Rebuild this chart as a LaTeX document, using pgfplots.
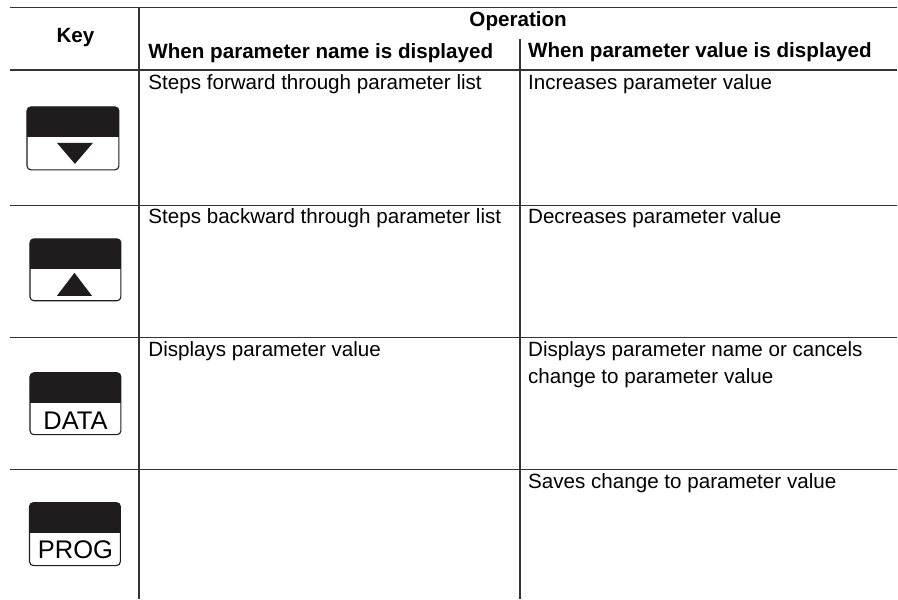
\documentclass[border=0pt]{standalone}
\usepackage{fontspec}
\setmainfont{Liberation Sans}
\usepackage{pgfplots}
\pgfplotsset{compat=1.18}
\definecolor{ln}{HTML}{333333}
\definecolor{tx}{HTML}{222222}
\definecolor{kb}{HTML}{1E1C1D}
\newcommand{\body}{\fontsize{20.7}{26.8}\selectfont}
\newcommand{\keyf}{\fontsize{25.6}{30}\selectfont}
\begin{document}
\begin{tikzpicture}
\begin{axis}[
  width=898bp, height=599bp, scale only axis,
  xmin=0, xmax=898, ymin=0, ymax=599, y dir=reverse,
  hide axis, clip=false,
  every node/.style={inner sep=0pt, text=tx},
]
% invisible frame for bounding box
\addplot[draw=none] coordinates {(0,0) (898,599)};
% grid lines
\addplot[ln, line width=1.3bp] coordinates {(10,7.5) (898,7.5)};
\addplot[ln, line width=1.3bp] coordinates {(10,70) (898,70)};
\addplot[ln, line width=1.3bp] coordinates {(10,205.5) (898,205.5)};
\addplot[ln, line width=1.3bp] coordinates {(10,337.5) (898,337.5)};
\addplot[ln, line width=1.3bp] coordinates {(10,470) (898,470)};
\addplot[ln, line width=1.3bp] coordinates {(139,7.5) (139,599)};
\addplot[ln, line width=1.3bp] coordinates {(520.5,39.5) (520.5,599)};
% key 1
\addplot[draw=kb, fill=white, line width=1.1bp, rounded corners=4bp] coordinates {(27,107) (119,107) (119,170) (27,170)} -- cycle;
\addplot[draw=none, fill=kb, rounded corners=4bp] coordinates {(27,107) (119,107) (119,137) (27,137)} -- cycle;
\addplot[draw=none, fill=kb] coordinates {(27,122) (119,122) (119,137) (27,137)} -- cycle;
\addplot[draw=none, fill=kb] coordinates {(57,143) (93,143) (75,164)} -- cycle;
% key 2
\addplot[draw=kb, fill=white, line width=1.1bp, rounded corners=4bp] coordinates {(30,239) (121,239) (121,301) (30,301)} -- cycle;
\addplot[draw=none, fill=kb, rounded corners=4bp] coordinates {(30,239) (121,239) (121,269) (30,269)} -- cycle;
\addplot[draw=none, fill=kb] coordinates {(30,254) (121,254) (121,269) (30,269)} -- cycle;
\addplot[draw=none, fill=kb] coordinates {(57,296) (92,296) (74.5,273)} -- cycle;
% key 3
\addplot[draw=kb, fill=white, line width=1.1bp, rounded corners=4bp] coordinates {(30,373) (121,373) (121,435) (30,435)} -- cycle;
\addplot[draw=none, fill=kb, rounded corners=4bp] coordinates {(30,373) (121,373) (121,403) (30,403)} -- cycle;
\addplot[draw=none, fill=kb] coordinates {(30,388) (121,388) (121,403) (30,403)} -- cycle;
\node[anchor=base] at (axis cs:75.5,430) {\keyf DATA};
% key 4
\addplot[draw=kb, fill=white, line width=1.1bp, rounded corners=4bp] coordinates {(29.5,503) (120.5,503) (120.5,566) (29.5,566)} -- cycle;
\addplot[draw=none, fill=kb, rounded corners=4bp] coordinates {(29.5,503) (120.5,503) (120.5,533) (29.5,533)} -- cycle;
\addplot[draw=none, fill=kb] coordinates {(29.5,518) (120.5,518) (120.5,533) (29.5,533)} -- cycle;
\node[anchor=base] at (axis cs:75.5,559) {\keyf PROG};
% header text
\node[anchor=base] at (axis cs:75.5,43) {\body\bfseries Key};
\node[anchor=base] at (axis cs:518.5,27) {\body\bfseries Operation};
\node[anchor=base west] at (axis cs:145,59) {\body\bfseries When parameter name is displayed};
\node[anchor=base west] at (axis cs:525,58) {\body\bfseries When parameter value is displayed};
% body text
\node[anchor=base west] at (axis cs:145,90) {\body Steps forward through parameter list};
\node[anchor=base west] at (axis cs:525,90) {\body Increases parameter value};
\node[anchor=base west] at (axis cs:145,224) {\body Steps backward through parameter list};
\node[anchor=base west] at (axis cs:525,224) {\body Decreases parameter value};
\node[anchor=base west] at (axis cs:145,357) {\body Displays parameter value};
\node[anchor=base west] at (axis cs:525,357) {\body Displays parameter name or cancels};
\node[anchor=base west] at (axis cs:525,383.5) {\body change to parameter value};
\node[anchor=base west] at (axis cs:525,488.5) {\body Saves change to parameter value};
\end{axis}
\end{tikzpicture}
\end{document}
